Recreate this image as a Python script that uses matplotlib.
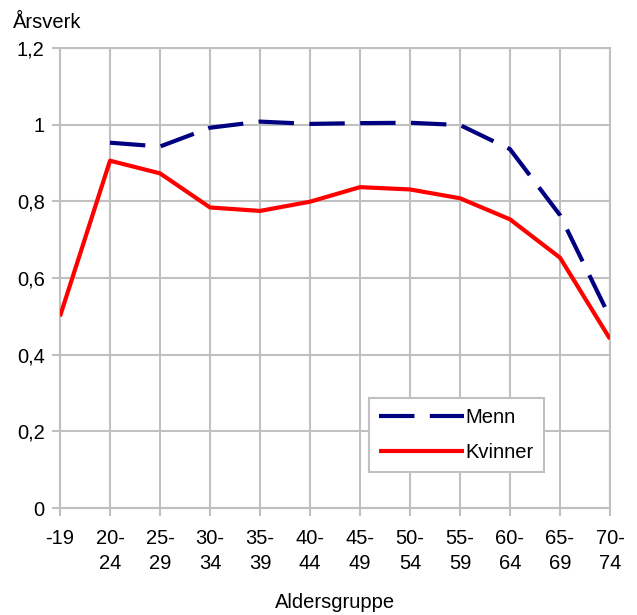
import matplotlib.pyplot as plt
from matplotlib.ticker import FuncFormatter

plt.rcParams['font.family'] = ['Liberation Sans', 'DejaVu Sans']

age_groups = ['-19', '20-\n24', '25-\n29', '30-\n34', '35-\n39', '40-\n44',
              '45-\n49', '50-\n54', '55-\n59', '60-\n64', '65-\n69', '70-\n74']
menn = [None, 0.953, 0.943, 0.992, 1.008, 1.002, 1.004, 1.005, 0.999, 0.936, 0.764, 0.497]
kvinner = [0.50, 0.906, 0.873, 0.784, 0.775, 0.799, 0.837, 0.831, 0.808, 0.753, 0.653, 0.441]
y_ticks = [0, 0.2, 0.4, 0.6, 0.8, 1.0, 1.2]

GRID = '#c0c0c0'
FS = 14.5

fig = plt.figure(figsize=(6.37, 6.15), dpi=100)
ax = fig.add_axes([60 / 637, 107 / 615, 550 / 637, 460 / 615])

x = list(range(len(age_groups)))
mx = [i for i, v in zip(x, menn) if v is not None]
my = [v for v in menn if v is not None]

ax.plot(mx, my, color='#000080', lw=3.0, dashes=(8.5, 3.7), label='Menn', zorder=3)
ax.plot(x, kvinner, color='#ff0000', lw=3.0, label='Kvinner', zorder=3,
        solid_capstyle='butt')

ax.set_xlim(0, len(age_groups) - 1)
ax.set_ylim(0, 1.2)
ax.set_xticks(x)
ax.set_xticklabels(age_groups, linespacing=1.38)
ax.set_yticks(y_ticks)
ax.yaxis.set_major_formatter(FuncFormatter(lambda v, p: f'{v:g}'.replace('.', ',')))

ax.grid(True, color=GRID, lw=1.5)
ax.set_axisbelow(True)
for s in ax.spines.values():
    s.set_color(GRID)
    s.set_linewidth(1.5)
ax.tick_params(axis='both', colors=GRID, length=6, width=1.5, labelsize=FS,
               labelcolor='black')
ax.tick_params(axis='x', pad=9)
ax.tick_params(axis='y', pad=5)

fig.text(13 / 637, 1 - 28 / 615, 'Årsverk', fontsize=FS, va='baseline', ha='left')
fig.text(335 / 637, 1 - 603 / 615, 'Aldersgruppe', fontsize=FS, va='center', ha='center')

leg = ax.legend(loc='upper left', bbox_to_anchor=((369 - 60) / 550, (508 - 398) / 460),
                fontsize=FS, frameon=True, fancybox=False, framealpha=1,
                edgecolor=GRID, handlelength=4.2, handletextpad=0.1,
                borderpad=0.5, labelspacing=0.8, borderaxespad=0)
leg.get_frame().set_linewidth(1.5)

fig.savefig('out.png', dpi=100)
